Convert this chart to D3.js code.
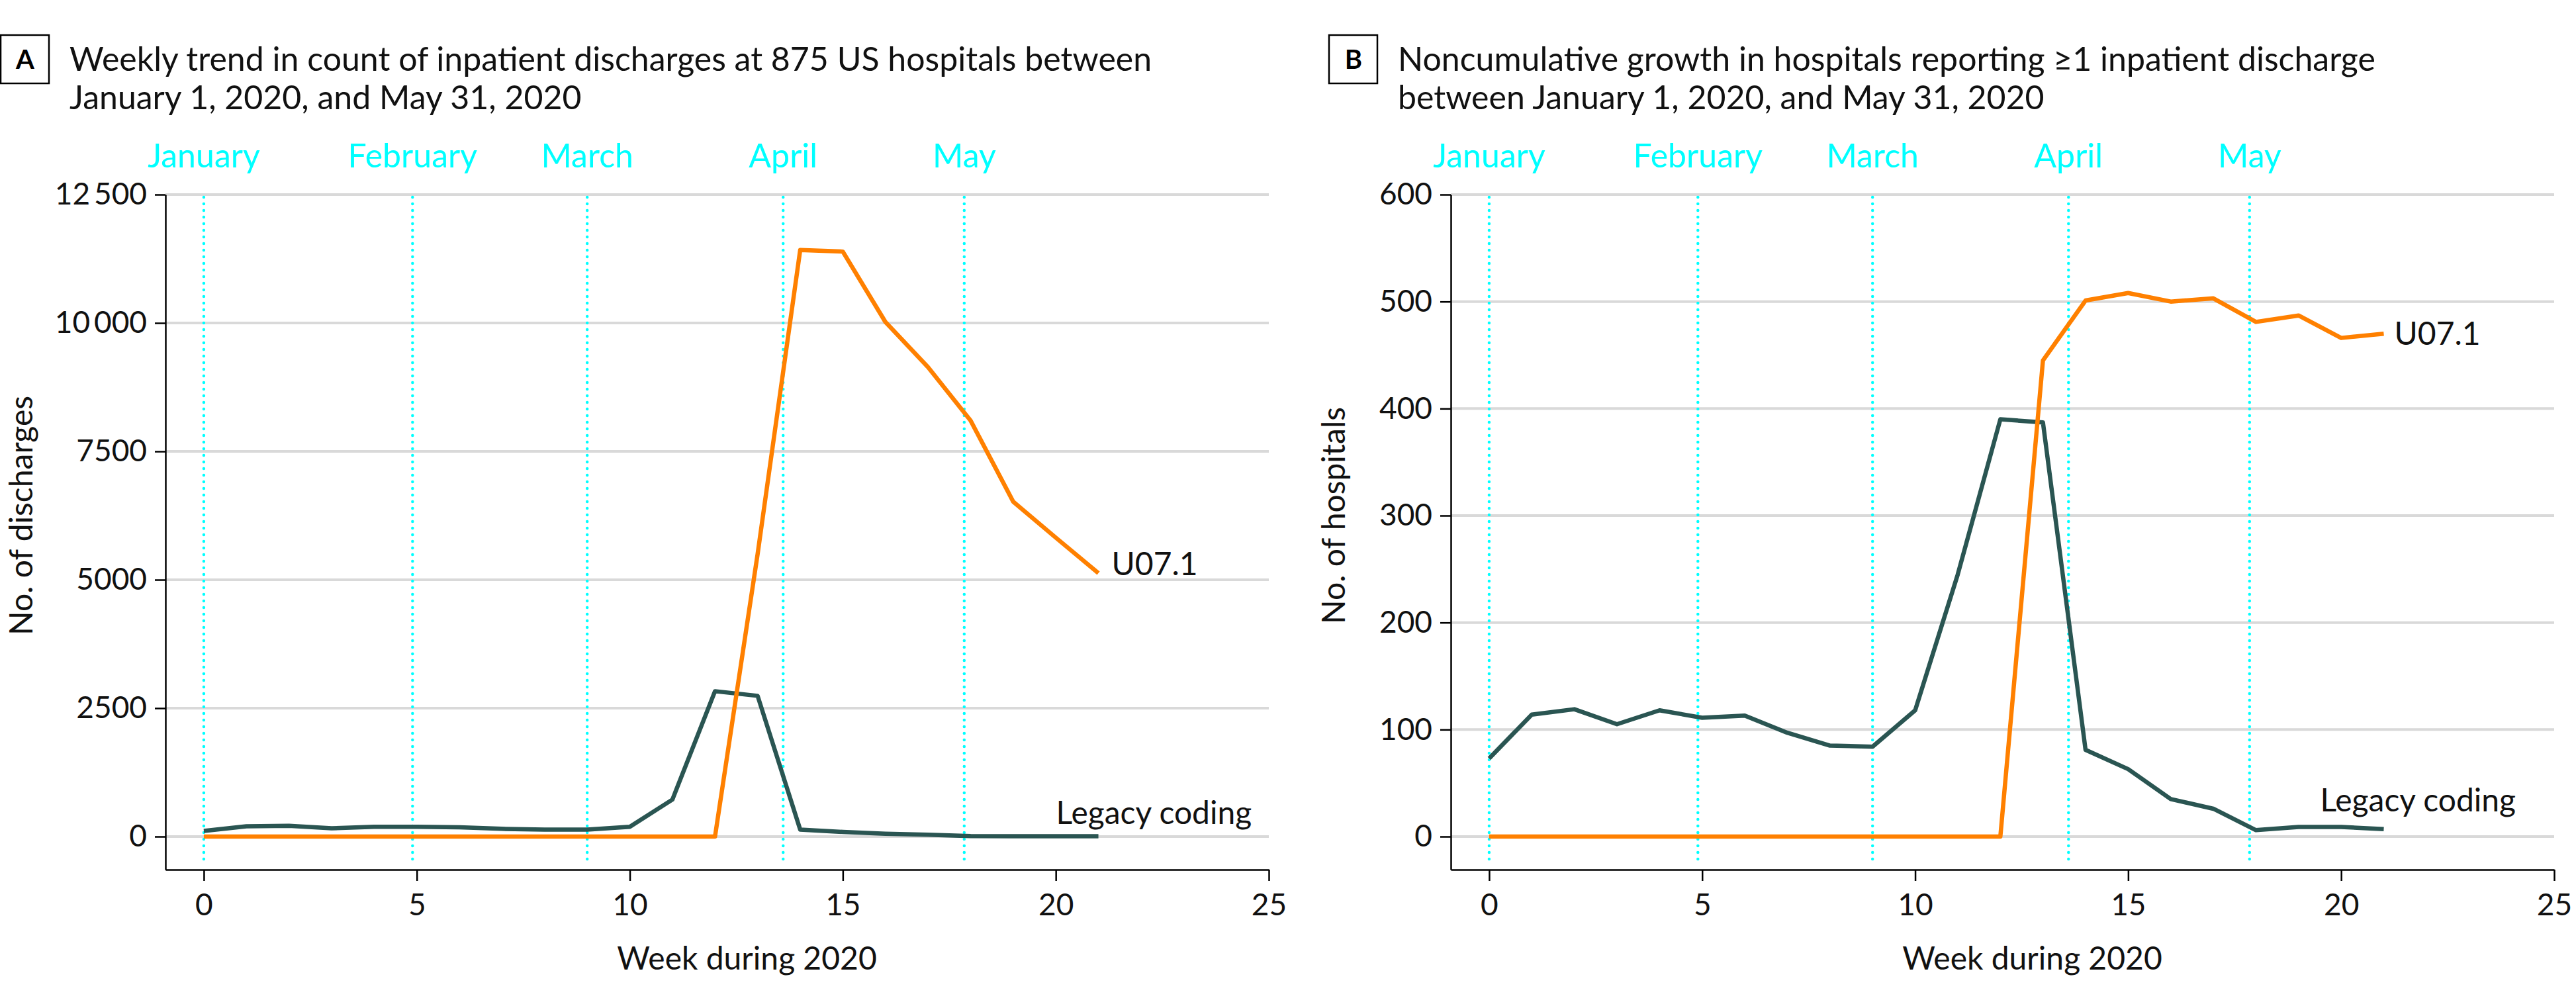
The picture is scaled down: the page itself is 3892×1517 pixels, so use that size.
<!DOCTYPE html>
<html>
<head>
<meta charset="utf-8">
<script src="https://cdn.jsdelivr.net/npm/d3@7"></script>
<style>
  html, body { margin: 0; padding: 0; background: #fff; }
  svg { display: block; font-family: Lato, "Open Sans", sans-serif; }
  .tick text { font-family: Lato, "Open Sans", sans-serif; }
</style>
</head>
<body>
<div id="chart"></div>
<script>
// ---- data ----
const WEEKS = [0, 1, 2, 3, 4, 5, 6, 7, 8, 9, 10, 11, 12, 13, 14, 15, 16, 17, 18, 19, 20, 21];

const MONTHS = ['January', 'February', 'March', 'April', 'May'];
const MONTH_WEEK = [0, 4.9, 9.0, 13.6, 17.85];

const X_TICKS = [0, 5, 10, 15, 20, 25];

// panel A: weekly count of discharges
const A_U071 = [0, 0, 0, 0, 0, 0, 0, 0, 0, 0, 0, 0, 0, 5500, 11420, 11390, 10020, 9140, 8100, 6520, 5820, 5130];
const A_LEGACY = [110, 200, 210, 160, 190, 190, 180, 150, 135, 135, 190, 720, 2830, 2740, 135, 90, 55, 35, 10, 5, 5, 5];
const A_Y_TICKS = [0, 2500, 5000, 7500, 10000, 12500];
const A_Y_LABELS = ['0', '2500', '5000', '7500', '10\u2009000', '12\u2009500'];

// panel B: hospitals reporting >=1 discharge
const B_U071 = [0, 0, 0, 0, 0, 0, 0, 0, 0, 0, 0, 0, 0, 445, 501, 508, 500, 503, 481, 487, 466, 470];
const B_LEGACY = [73, 114, 119, 105, 118, 111, 113, 97, 85, 84, 118, 245, 390, 387, 81, 63, 35, 26, 6, 9, 9, 7];
const B_Y_TICKS = [0, 100, 200, 300, 400, 500, 600];
const B_Y_LABELS = ['0', '100', '200', '300', '400', '500', '600'];

const ORANGE = '#ff8000', DARK = '#2a5552', CYAN = '#00ffff', GRID = '#d9d9d9';

const W = 3892, H = 1517;
const svg = d3.select('#chart').append('svg').attr('width', W).attr('height', H);

function panel(o) {
  const g = svg.append('g');
  const x = d3.scaleLinear().domain([-0.9, 25]).range([o.left, o.left + 1667]);
  const yMax = o.yTicks[o.yTicks.length - 1];
  const y = d3.scaleLinear().domain([-yMax * 50 / 970, yMax]).range([1314, 294]);

  // panel letter + title
  g.append('rect').attr('x', o.boxX + 1).attr('y', 53).attr('width', 73).attr('height', 73)
    .attr('fill', 'none').attr('stroke', '#000').attr('stroke-width', 2.5);
  g.append('text').attr('x', o.boxX + 38).attr('y', 104).attr('text-anchor', 'middle')
    .attr('font-size', 40).attr('font-weight', 700).text(o.letter);
  o.title.forEach((t, i) => {
    g.append('text').attr('x', o.boxX + 105).attr('y', 107 + i * 58)
      .attr('font-size', 50).attr('fill', '#111').text(t);
  });

  // gridlines
  g.append('g').selectAll('line').data(o.yTicks).join('line')
    .attr('x1', x(-0.9)).attr('x2', x(25))
    .attr('y1', d => y(d)).attr('y2', d => y(d))
    .attr('stroke', GRID).attr('stroke-width', 4);

  // month reference lines
  g.append('g').selectAll('line').data(MONTH_WEEK).join('line')
    .attr('x1', d => x(d)).attr('x2', d => x(d))
    .attr('y1', y(yMax) + 4).attr('y2', 1308)
    .attr('stroke', CYAN).attr('stroke-width', 4.5)
    .attr('stroke-linecap', 'round').attr('stroke-dasharray', '0 10');
  g.append('g').selectAll('text').data(MONTHS).join('text')
    .attr('x', (d, i) => x(MONTH_WEEK[i])).attr('y', 253)
    .attr('text-anchor', 'middle').attr('font-size', 50).attr('fill', CYAN)
    .text(d => d);

  // axes
  const xAxis = g.append('g').attr('transform', 'translate(0,1314)')
    .call(d3.axisBottom(x).tickValues(X_TICKS).tickSize(17).tickSizeOuter(0).tickPadding(19));
  const yAxis = g.append('g').attr('transform', `translate(${o.left},0)`)
    .call(d3.axisLeft(y).tickValues(o.yTicks).tickFormat((d, i) => o.yLabels[i])
      .tickSize(16).tickSizeOuter(0).tickPadding(12));
  [xAxis, yAxis].forEach(a => {
    a.select('.domain').attr('stroke', '#000').attr('stroke-width', 2.5);
    a.selectAll('.tick line').attr('stroke', '#000').attr('stroke-width', 2.5);
    a.selectAll('.tick text').attr('font-size', 46).attr('fill', '#111');
  });

  g.append('text').attr('x', x(12.75)).attr('y', 1465).attr('text-anchor', 'middle')
    .attr('font-size', 48).attr('fill', '#111').text('Week during 2020');
  g.append('text').attr('transform', `translate(${o.yTitleX},${(y(0) + y(yMax)) / 2}) rotate(-90)`)
    .attr('text-anchor', 'middle').attr('dominant-baseline', 'central')
    .attr('font-size', 48).attr('fill', '#111').text(o.yTitle);

  // series
  const line = d3.line().x((d, i) => x(WEEKS[i])).y(d => y(d));
  g.append('path').datum(o.legacy).attr('d', line)
    .attr('fill', 'none').attr('stroke', DARK).attr('stroke-width', 6.5).attr('stroke-linejoin', 'round');
  g.append('path').datum(o.u071).attr('d', line)
    .attr('fill', 'none').attr('stroke', ORANGE).attr('stroke-width', 6.5).attr('stroke-linejoin', 'round');

  // series labels
  const last = o.u071[o.u071.length - 1];
  g.append('text').attr('x', x(21) + o.uDx).attr('y', y(last) + o.uDy)
    .attr('font-size', 48).attr('fill', '#111').text('U07.1');
  g.append('text').attr('x', x(o.legEndWeek)).attr('y', y(0) - o.legUp)
    .attr('text-anchor', 'end').attr('font-size', 48).attr('fill', '#111').text('Legacy coding');
}

panel({
  letter: 'A', boxX: 0, left: 250, yTitleX: 30,
  title: ['Weekly trend in count of inpatient discharges at 875 US hospitals between',
          'January 1, 2020, and May 31, 2020'],
  yTicks: A_Y_TICKS, yLabels: A_Y_LABELS, yTitle: 'No. of discharges',
  u071: A_U071, legacy: A_LEGACY,
  uDx: 20, uDy: 3, legEndWeek: 24.6, legUp: 19
});

panel({
  letter: 'B', boxX: 2007, left: 2192, yTitleX: 2013,
  title: ['Noncumulative growth in hospitals reporting \u22651 inpatient discharge',
          'between January 1, 2020, and May 31, 2020'],
  yTicks: B_Y_TICKS, yLabels: B_Y_LABELS, yTitle: 'No. of hospitals',
  u071: B_U071, legacy: B_LEGACY,
  uDx: 16, uDy: 17, legEndWeek: 24.1, legUp: 38
});
</script>
</body>
</html>
